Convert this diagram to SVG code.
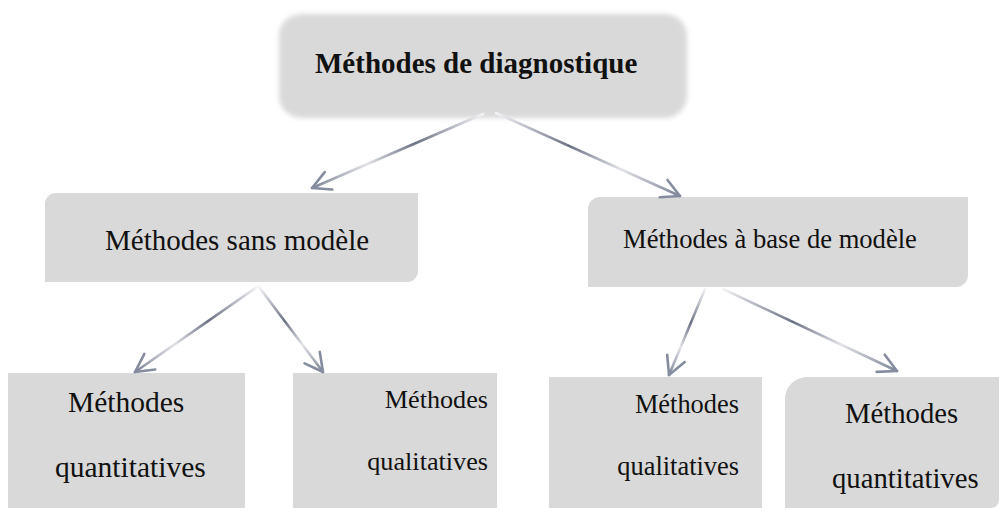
<svg xmlns="http://www.w3.org/2000/svg" width="1003" height="510" viewBox="0 0 1003 510">
  <style>
    .box { fill: #d9d9d9; }
    .link { fill: none; stroke-width: 2.6; stroke-linecap: round; }
  </style>
  <defs>
    <filter id="soft" x="-5%" y="-10%" width="110%" height="120%">
      <feGaussianBlur stdDeviation="2.5"/>
    </filter>
    <marker id="head" markerUnits="userSpaceOnUse" viewBox="-22 -13 26 26" markerWidth="26" markerHeight="26" refX="0" refY="0" orient="auto">
      <path d="M -18 -9.5 L 0 0 L -18 9.5" fill="none" stroke="#858ca0" stroke-width="2.6" stroke-linecap="round" stroke-linejoin="round"/>
    </marker>
    <linearGradient id="g1" gradientUnits="userSpaceOnUse" x1="483" y1="114" x2="312" y2="188">
      <stop offset="0" stop-color="#f4f4f6"/>
      <stop offset="0.4" stop-color="#6c7286"/>
      <stop offset="0.68" stop-color="#e2e3e7"/>
      <stop offset="1" stop-color="#7c8397"/>
    </linearGradient>
    <linearGradient id="g2" gradientUnits="userSpaceOnUse" x1="496" y1="113" x2="680" y2="196">
      <stop offset="0" stop-color="#f4f4f6"/>
      <stop offset="0.4" stop-color="#6c7286"/>
      <stop offset="0.68" stop-color="#e2e3e7"/>
      <stop offset="1" stop-color="#7c8397"/>
    </linearGradient>
    <linearGradient id="g3" gradientUnits="userSpaceOnUse" x1="257" y1="287" x2="135" y2="372">
      <stop offset="0" stop-color="#f4f4f6"/>
      <stop offset="0.4" stop-color="#6c7286"/>
      <stop offset="0.68" stop-color="#e2e3e7"/>
      <stop offset="1" stop-color="#7c8397"/>
    </linearGradient>
    <linearGradient id="g4" gradientUnits="userSpaceOnUse" x1="259" y1="287" x2="323" y2="372">
      <stop offset="0" stop-color="#f4f4f6"/>
      <stop offset="0.4" stop-color="#6c7286"/>
      <stop offset="0.68" stop-color="#e2e3e7"/>
      <stop offset="1" stop-color="#7c8397"/>
    </linearGradient>
    <linearGradient id="g5" gradientUnits="userSpaceOnUse" x1="705" y1="289" x2="669" y2="375">
      <stop offset="0" stop-color="#f4f4f6"/>
      <stop offset="0.4" stop-color="#6c7286"/>
      <stop offset="0.68" stop-color="#e2e3e7"/>
      <stop offset="1" stop-color="#7c8397"/>
    </linearGradient>
    <linearGradient id="g6" gradientUnits="userSpaceOnUse" x1="723" y1="289" x2="897" y2="371">
      <stop offset="0" stop-color="#f4f4f6"/>
      <stop offset="0.4" stop-color="#6c7286"/>
      <stop offset="0.68" stop-color="#e2e3e7"/>
      <stop offset="1" stop-color="#7c8397"/>
    </linearGradient>
  </defs>

  <g font-family="Liberation Serif, DejaVu Serif, Times New Roman, serif" fill="#111111">
    <!-- root -->
    <g id="node-diagnostique">
      <rect class="box" x="279" y="14" width="408" height="104" rx="22" filter="url(#soft)"/>
      <text x="315" y="73" font-size="29" font-weight="bold">Méthodes de diagnostique</text>
    </g>

    <!-- second level -->
    <g id="node-sans-modele">
      <path class="box" d="M45,204 A11,11 0 0 1 56,193 L418,193 L418,271 A11,11 0 0 1 407,282 L45,282 Z"/>
      <text x="105" y="250" font-size="29">Méthodes sans modèle</text>
    </g>
    <g id="node-base-modele">
      <path class="box" d="M588,209 A12,12 0 0 1 600,197 L968,197 L968,275 A12,12 0 0 1 956,287 L588,287 Z"/>
      <text x="623" y="248" font-size="26.6">Méthodes à base de modèle</text>
    </g>

    <!-- leaves -->
    <g id="node-quantitatives-1">
      <rect class="box" x="8" y="373" width="237" height="135"/>
      <text x="68" y="412" font-size="29.5">Méthodes</text>
      <text x="55" y="477" font-size="29.5">quantitatives</text>
    </g>
    <g id="node-qualitatives-1">
      <rect class="box" x="293" y="373" width="204" height="135"/>
      <text x="488" y="408" font-size="26.2" text-anchor="end">Méthodes</text>
      <text x="488" y="470" font-size="26.2" text-anchor="end">qualitatives</text>
    </g>
    <g id="node-qualitatives-2">
      <rect class="box" x="549" y="377" width="213" height="131"/>
      <text x="739" y="413" font-size="26.4" text-anchor="end">Méthodes</text>
      <text x="739" y="475" font-size="26.4" text-anchor="end">qualitatives</text>
    </g>
    <g id="node-quantitatives-2">
      <path class="box" d="M785,399 A22,22 0 0 1 807,377 L999,377 L999,500 A8,8 0 0 1 991,508 L785,508 Z"/>
      <text x="845" y="423" font-size="28.7">Méthodes</text>
      <text x="832" y="488" font-size="28.7">quantitatives</text>
    </g>
  </g>

  <!-- connectors -->
  <g id="connectors">
    <line class="link" x1="483" y1="114" x2="312" y2="188" stroke="url(#g1)" marker-end="url(#head)"/>
    <line class="link" x1="496" y1="113" x2="680" y2="196" stroke="url(#g2)" marker-end="url(#head)"/>
    <line class="link" x1="257" y1="287" x2="135" y2="372" stroke="url(#g3)" marker-end="url(#head)"/>
    <line class="link" x1="259" y1="287" x2="323" y2="372" stroke="url(#g4)" marker-end="url(#head)"/>
    <line class="link" x1="705" y1="289" x2="669" y2="375" stroke="url(#g5)" marker-end="url(#head)"/>
    <line class="link" x1="723" y1="289" x2="897" y2="371" stroke="url(#g6)" marker-end="url(#head)"/>
  </g>
</svg>
